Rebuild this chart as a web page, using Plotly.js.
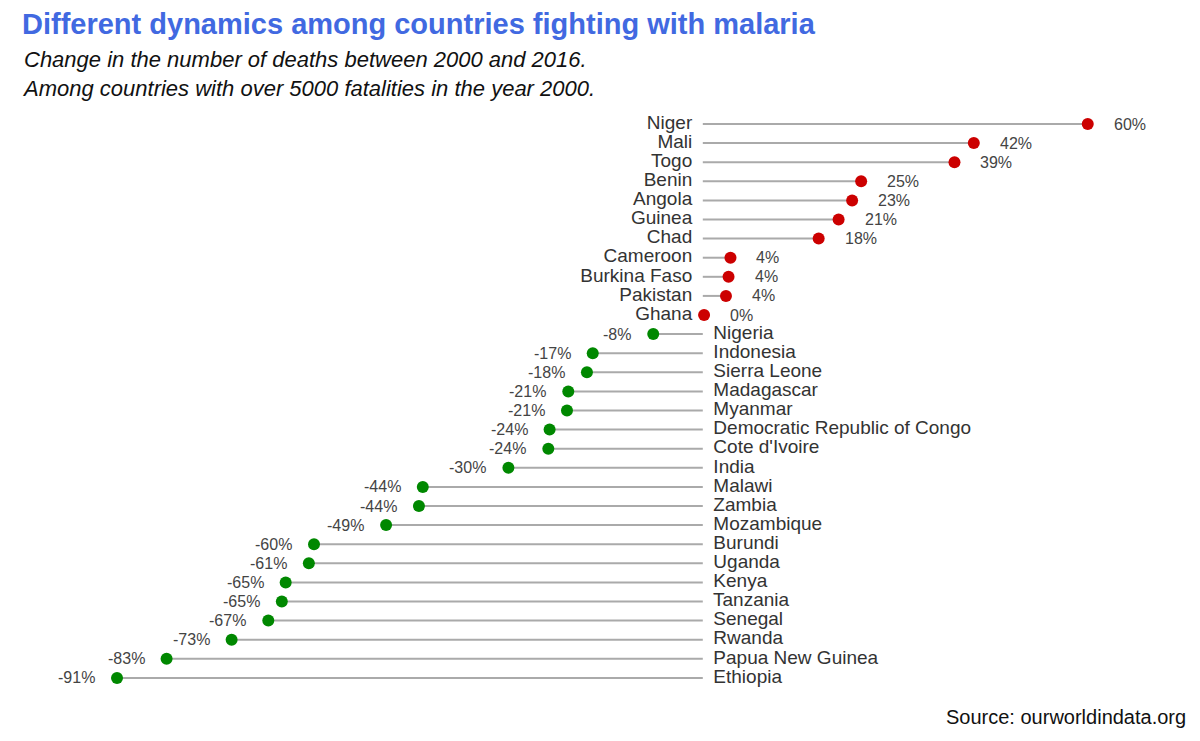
<!DOCTYPE html>
<html>
<head>
<meta charset="utf-8">
<script src="https://cdn.plot.ly/plotly-3.0.1.min.js"></script>
<style>body{margin:0}#chart{width:1200px;height:741px}</style>
</head>
<body>
<div id="chart"></div>
<script>
const countries = ['Niger','Mali','Togo','Benin','Angola','Guinea','Chad','Cameroon','Burkina Faso','Pakistan','Ghana',
  'Nigeria','Indonesia','Sierra Leone','Madagascar','Myanmar','Democratic Republic of Congo','Cote d\'Ivoire','India',
  'Malawi','Zambia','Mozambique','Burundi','Uganda','Kenya','Tanzania','Senegal','Rwanda','Papua New Guinea','Ethiopia'];
const change = [59.8,42.1,39.1,24.6,23.2,21.1,18.0,4.3,4.0,3.6,0.2,
  -7.7,-17.1,-18.0,-20.9,-21.1,-23.8,-24.0,-30.2,
  -43.5,-44.1,-49.2,-60.4,-61.2,-64.8,-65.4,-67.5,-73.2,-83.3,-91.0];
const pctLabels = ['60%','42%','39%','25%','23%','21%','18%','4%','4%','4%','0%',
  '-8%','-17%','-18%','-21%','-21%','-24%','-24%','-30%',
  '-44%','-44%','-49%','-60%','-61%','-65%','-65%','-67%','-73%','-83%','-91%'];

const idx = countries.map((c, i) => i);
const pos = change.map(v => v >= 0);

const lx = [], ly = [];
change.forEach((v, i) => { lx.push(0, v, null); ly.push(i, i, null); });

const labelFont = { family: 'Liberation Sans', size: 19, color: '#333' };

const traces = [
  { x: lx, y: ly, mode: 'lines', line: { color: '#aaaaaa', width: 2 }, hoverinfo: 'skip' },
  { x: change, y: idx, mode: 'markers',
    marker: { size: 12, color: change.map(v => v >= 0 ? '#cc0000' : '#008800') } },
  { x: idx.filter(i => pos[i]).map(() => 0), y: idx.filter(i => pos[i]),
    text: idx.filter(i => pos[i]).map(i => countries[i] + '  '),
    mode: 'text', textposition: 'middle left', textfont: labelFont },
  { x: idx.filter(i => !pos[i]).map(() => 0), y: idx.filter(i => !pos[i]),
    text: idx.filter(i => !pos[i]).map(i => '  ' + countries[i]),
    mode: 'text', textposition: 'middle right', textfont: labelFont }
];

const annotations = change.map((v, i) => ({
  x: v, y: i, text: pctLabels[i], showarrow: false,
  xanchor: v >= 0 ? 'left' : 'right', xshift: v >= 0 ? 24 : -20,
  font: { family: 'Liberation Sans', size: 16, color: '#444' }
}));
annotations.push(
  { xref: 'paper', yref: 'paper', x: 20 / 1200, y: 1 + 76 / 600, xanchor: 'left', yanchor: 'middle', showarrow: false,
    text: '<b>Different dynamics among countries fighting with malaria</b>',
    font: { family: 'Liberation Sans', size: 29, color: '#4169e1' } },
  { xref: 'paper', yref: 'paper', x: 20 / 1200, y: 1 + 26 / 600, xanchor: 'left', yanchor: 'middle', showarrow: false, align: 'left',
    text: '<i>Change in the number of deaths between 2000 and 2016.<br>Among countries with over 5000 fatalities in the year 2000.</i>',
    font: { family: 'Liberation Sans', size: 22, color: '#111' } },
  { xref: 'paper', yref: 'paper', x: 1188 / 1200, y: -17 / 600, xanchor: 'right', yanchor: 'middle', showarrow: false,
    text: 'Source: ourworldindata.org',
    font: { family: 'Liberation Sans', size: 20, color: '#111' } }
);

Plotly.newPlot('chart', traces, {
  width: 1200, height: 741,
  margin: { l: 0, r: 0, t: 100, b: 41 },
  showlegend: false,
  paper_bgcolor: '#fff', plot_bgcolor: '#fff',
  xaxis: { range: [-109.18, 77.24], visible: false, fixedrange: true },
  yaxis: { range: [30.157, -1.257], visible: false, fixedrange: true },
  annotations: annotations
}, { displayModeBar: false });
</script>
</body>
</html>
